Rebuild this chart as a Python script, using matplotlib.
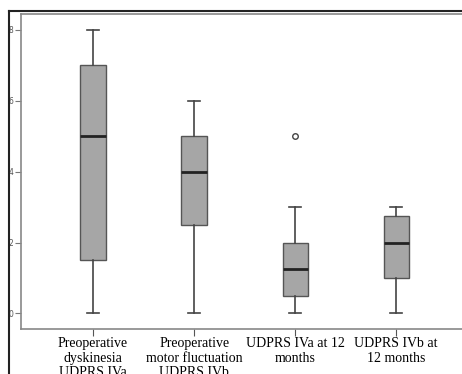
'''
Box plot of UDPRS IV scores before surgery and at 12 months.
'''

import matplotlib
matplotlib.use('Agg')
import matplotlib.pyplot as plt
from matplotlib.lines import Line2D

#######################################################

labels = ['Preoperative\ndyskinesia\nUDPRS IVa',
          'Preoperative\nmotor fluctuation\nUDPRS IVb',
          'UDPRS IVa at 12\nmonths',
          'UDPRS IVb at\n12 months']
whislo = [0, 0, 0, 0]
q1     = [1.5, 2.5, 0.5, 1.0]
med    = [5, 4, 1.25, 2]
q3     = [7, 5, 2, 2.75]
whishi = [8, 6, 3, 3]
fliers = [[], [], [5], []]
yticks = [0, 2, 4, 6, 8]

#######################################################

stats = []
for i in range(len(labels)):
    stats.append(dict(whislo=whislo[i], q1=q1[i], med=med[i], q3=q3[i],
                      whishi=whishi[i], fliers=fliers[i], label=labels[i]))

fig = plt.figure(figsize=(4.62, 3.74), dpi=100)
ax = fig.add_axes([21/462, 45/374, (470-21)/462, 315/374])

ax.bxp(stats, positions=[1, 2, 3, 4], widths=0.25, patch_artist=True,
       boxprops=dict(facecolor='#a6a6a6', edgecolor='#555555', linewidth=1.0),
       medianprops=dict(color='#222222', linewidth=2.0),
       whiskerprops=dict(color='#444444', linewidth=1.2),
       capprops=dict(color='#444444', linewidth=1.2),
       capwidths=0.12,
       flierprops=dict(marker='o', markersize=4, markerfacecolor='white',
                       markeredgecolor='#444444', markeredgewidth=1.0))

ax.set_xlim(0.287, 4.73)
ax.set_ylim(-0.44, 8.45)
ax.set_yticks(yticks)
ax.set_yticklabels([str(v) for v in yticks], fontsize=5.5, color='#555555',
                   family='DejaVu Sans')
ax.set_xticks([1, 2, 3, 4])
ax.set_xticklabels(labels, fontsize=10, family='Liberation Serif',
                   linespacing=1.15)
ax.tick_params(axis='y', direction='out', length=4.5, width=0.8, color='#777777', pad=1)
ax.tick_params(axis='x', direction='out', length=5, width=0.8, color='#555555', pad=1)

for side in ['left', 'top', 'bottom']:
    ax.spines[side].set_color('#888888')
    ax.spines[side].set_linewidth(1.2)
ax.spines['right'].set_visible(False)

# outer frame, black lines top and left
fig.add_artist(Line2D([9/462, 9/462], [0, 1 - 11/374], color='#222222', lw=1.5))
fig.add_artist(Line2D([9/462, 1], [1 - 11/374, 1 - 11/374], color='#222222', lw=1.5))

fig.savefig('out.png', dpi=100)
